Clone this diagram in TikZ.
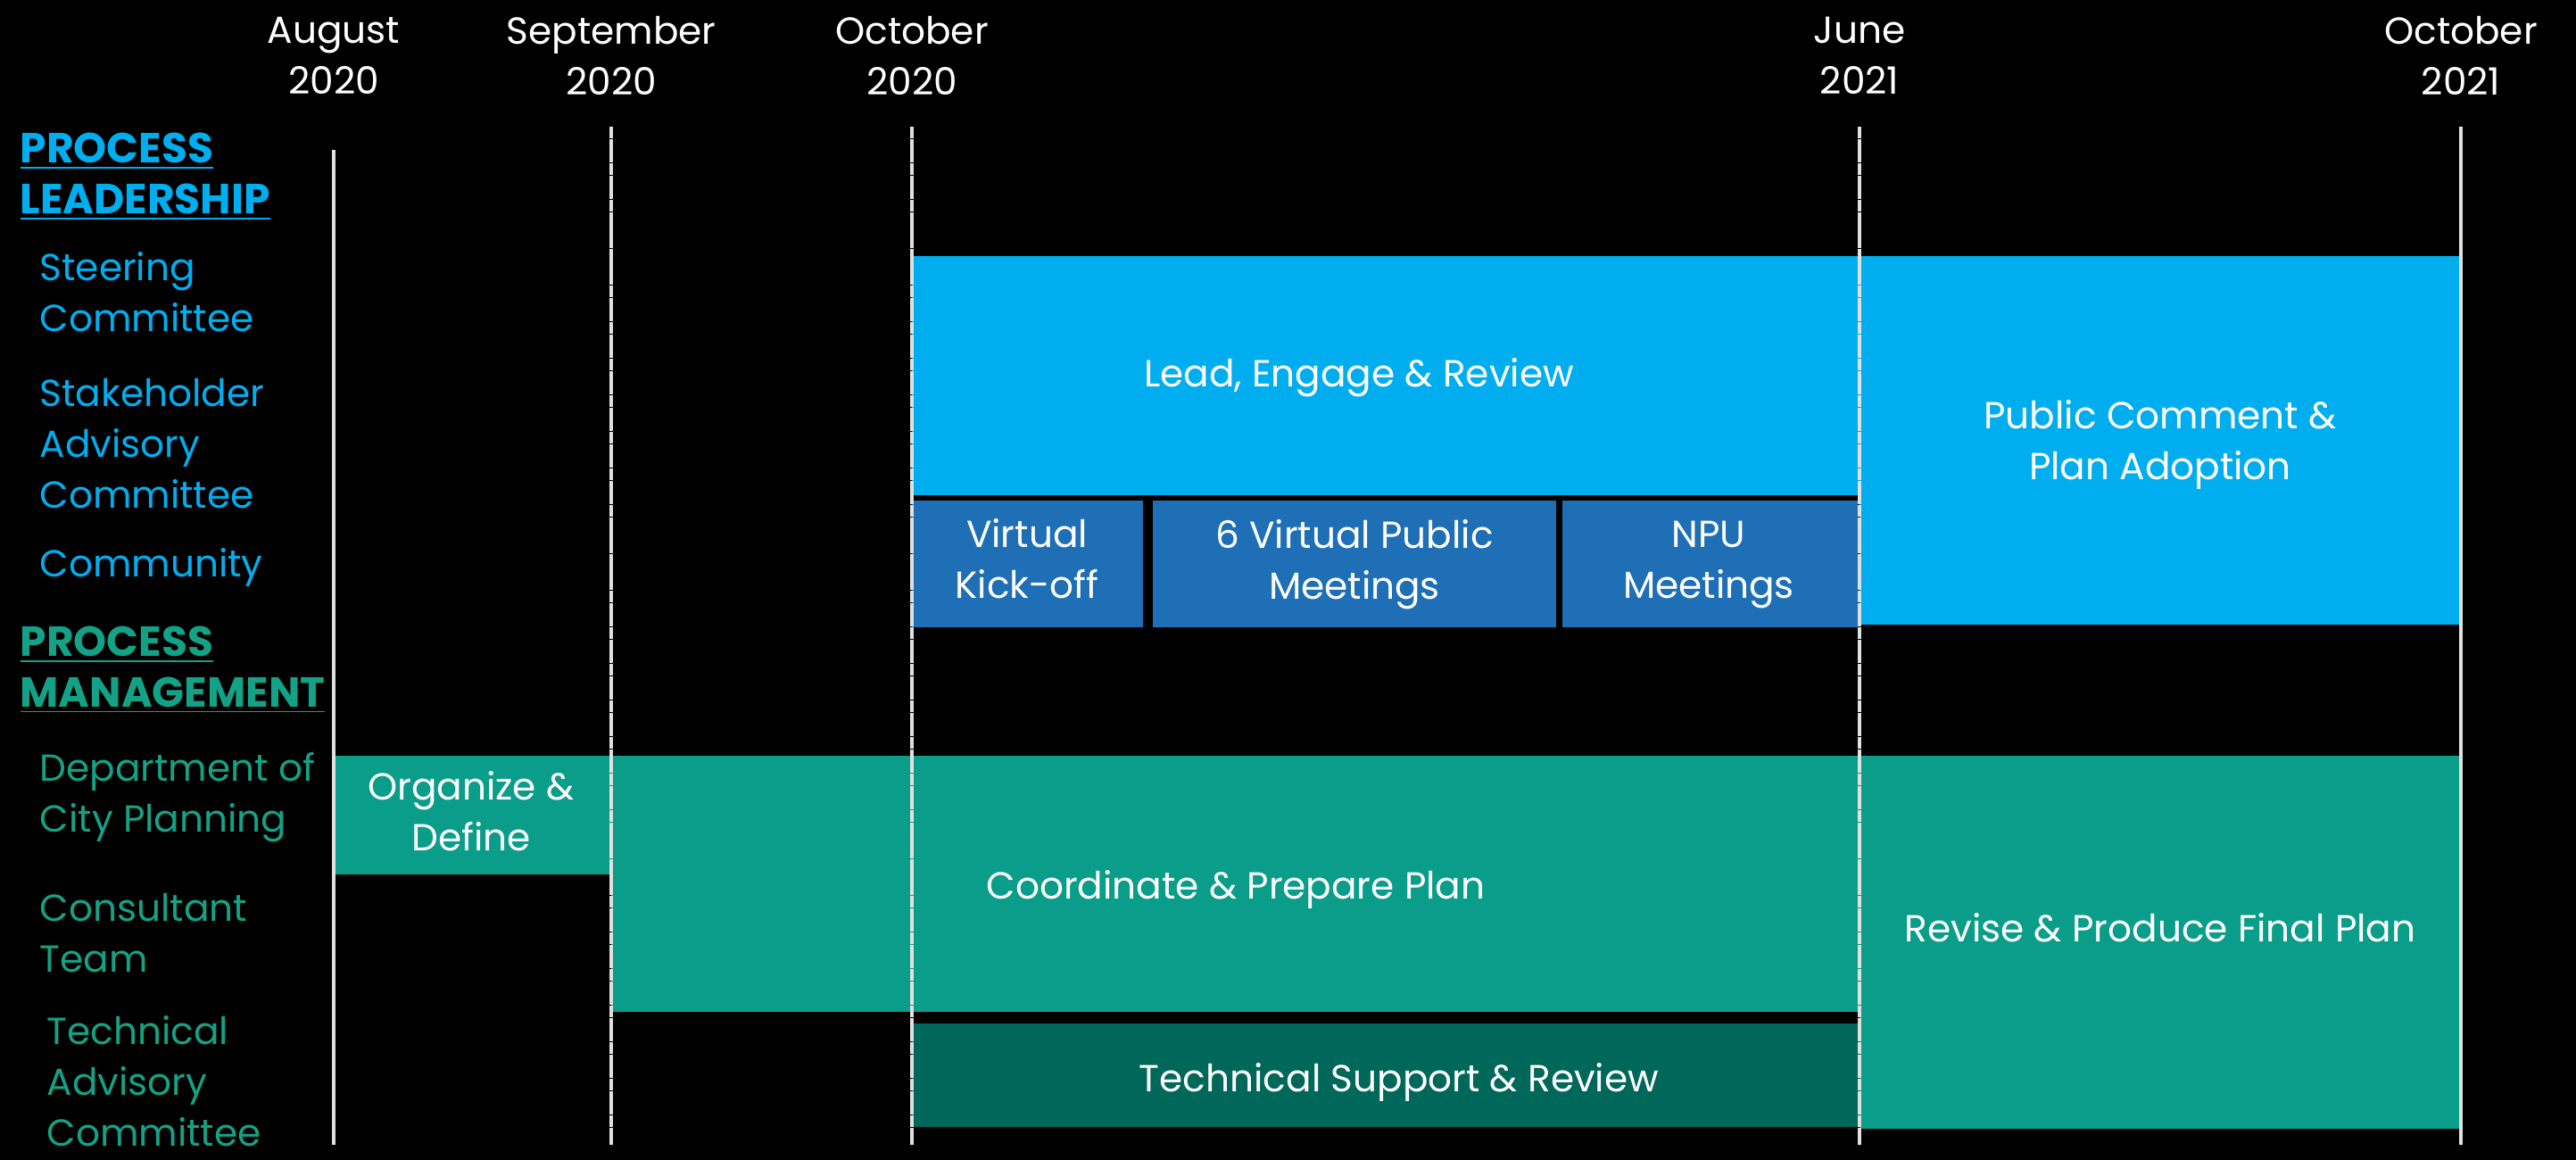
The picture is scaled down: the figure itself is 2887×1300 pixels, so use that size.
\documentclass[tikz,border=0pt]{standalone}
\usepackage{fontspec}
\setmainfont{Poppins}
\usepackage{xcolor}
\usepackage{tikz}
\usetikzlibrary{positioning}
\definecolor{C0}{HTML}{00AEEF}
\definecolor{C1}{HTML}{1F6FB6}
\definecolor{C2}{HTML}{0A9E8A}
\definecolor{C3}{HTML}{00685A}
\definecolor{C4}{HTML}{14A286}
\tikzset{
  txt/.style={font=\fontsize{12}{16.2}\selectfont, inner sep=0pt, align=center},
  bartxt/.style={txt, text=white},
  month/.style={txt, text=white},
  rowlbl/.style={txt, align=left, anchor=west},
  headlbl/.style={rowlbl, font=\fontsize{13.4}{16.2}\selectfont\bfseries},
  vline/.style={draw=white!88!black, line width=0.9pt},
  vbroken/.style={vline, dash pattern=on 3.72pt off 0.17pt}
}
\begin{document}
\begin{tikzpicture}[x=0.01cm,y=-0.01cm]
\def \xAug {374}
\def \xSep {685}
\def \xOct {1022}
\def \xJun {2084}
\def \xEnd {2758}
\def \yTop {142}
\def \yBot {1283}
\fill[black] (0,0) rectangle (2887,1300);
\useasboundingbox (0,0) rectangle (2887,1300);
% leadership bars
\fill[C0] (\xOct,287) rectangle (\xJun,555);
\fill[C0] (\xJun,287) rectangle (\xEnd,700);
\fill[C1] (\xOct,561) rectangle (1281,703);
\fill[C1] (1292,561) rectangle (1744,703);
\fill[C1] (1751,561) rectangle (2082,703);
% management bars
\fill[C2] (\xAug,847) rectangle (\xSep,980);
\fill[C2] (\xSep,847) rectangle (\xJun,1134);
\fill[C2] (\xJun,847) rectangle (\xEnd,1265);
\fill[C3] (\xOct,1147) rectangle (\xJun,1263);
% month lines
\coordinate (aug) at (\xAug,168);
\coordinate (sep) at (\xSep,\yTop);
\coordinate (oct) at (\xOct,\yTop);
\coordinate (jun) at (\xJun,\yTop);
\coordinate (octb) at (\xEnd,\yTop);
\draw[vline] (aug) -- (\xAug,\yBot);
\draw[vbroken] (sep) -- (\xSep,\yBot);
\draw[vbroken] (oct) -- (\xOct,\yBot);
\draw[vbroken] (jun) -- (\xJun,\yBot);
\draw[vline] (octb) -- (\xEnd,\yBot);
\node[month] (mAug) at (\xAug,62) {August\\2020};
\node[month] (mSep) at (\xSep,62) {September\\2020};
\node[month] (mOct) at (\xOct,62) {October\\2020};
\node[month] (mJun) at (\xJun,62) {June\\2021};
\node[month] (mEnd) at (\xEnd,62) {October\\2021};
% row labels
\node[headlbl, text=C0] (hLead) at (22,198) {\underline{PROCESS}\\\underline{LEADERSHIP}};
\node[rowlbl, text=C0] (steer) at (44,327) {Steering\\Committee};
\node[rowlbl, text=C0] (stake) at (44,497) {Stakeholder\\Advisory\\Committee};
\node[rowlbl, text=C0] (comm) at (44,636) {Community};
\node[headlbl, text=C4] (hMan) at (22,751) {\underline{PROCESS}\\\underline{MANAGEMENT}};
\node[rowlbl, text=C4] (dcp) at (44,894) {Department of\\City Planning};
\node[rowlbl, text=C4] (cons) at (44,1046) {Consultant\\Team};
\node[rowlbl, text=C4] (tac) at (52,1212) {Technical\\Advisory\\Committee};
% bar texts
\node[bartxt] (lead) at (1523,423) {Lead, Engage \& Review};
\node[bartxt] (adopt) at (2421,498) {Public Comment \&\\Plan Adoption};
\node[bartxt] (kick) at (1151,626) {Virtual\\Kick-off};
\node[bartxt] (meet) at (1518,633) {6 Virtual Public\\Meetings};
\node[bartxt] (npu) at (1915,633) {NPU\\Meetings};
\node[bartxt] (org) at (528,909) {Organize \&\\Define};
\node[bartxt] (coord) at (1385,997) {Coordinate \& Prepare Plan};
\node[bartxt] (revise) at (2421,1040) {Revise \& Produce Final Plan};
\node[bartxt] (tech) at (1568,1213) {Technical Support \& Review};
\end{tikzpicture}
\end{document}
